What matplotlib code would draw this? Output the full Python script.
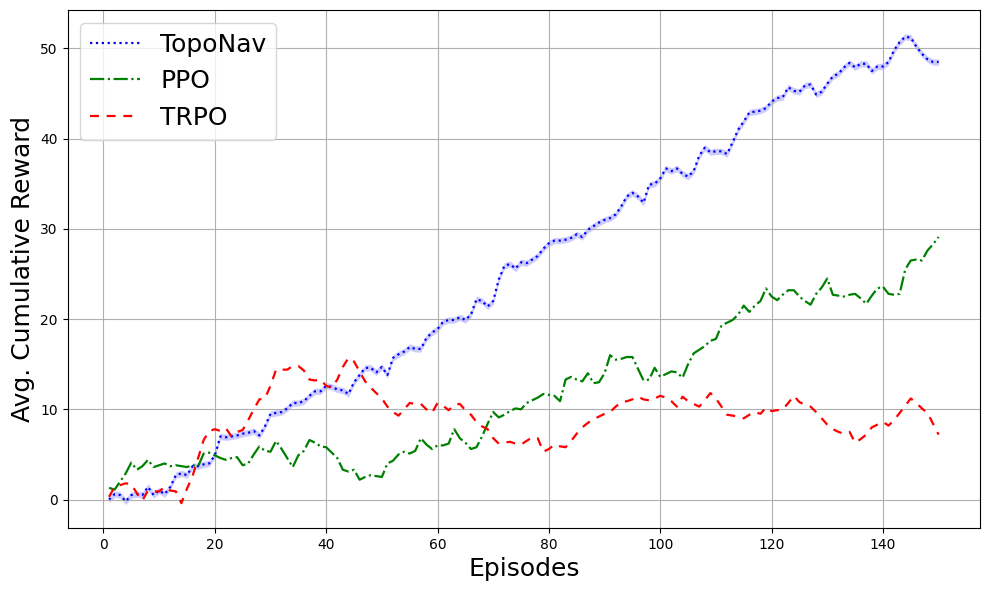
import numpy as np
import matplotlib
matplotlib.use("Agg")
import matplotlib.pyplot as plt

# -----------------------------------------
# Données
# -----------------------------------------
episodes = np.arange(1, 151)

toponav = [
    0.0, 0.6, 0.5, -0.2, 0.5, 0.6, 0.5, 1.4, 0.5, 1.0,
    0.6, 1.4, 2.7, 2.9, 2.7, 3.7, 3.7, 3.9, 4.0, 4.9,
    7.0, 6.9, 7.0, 7.1, 7.3, 7.4, 7.6, 7.1, 8.1, 9.5,
    9.6, 9.7, 10.1, 10.7, 10.7, 10.9, 11.5, 12.0, 12.0, 12.6,
    12.5, 12.2, 12.1, 11.7, 13.0, 13.8, 14.6, 14.6, 14.1, 14.7,
    13.8, 15.7, 16.1, 16.4, 16.9, 16.7, 16.7, 17.9, 18.5, 18.9,
    19.7, 19.9, 19.9, 20.2, 19.9, 20.5, 22.2, 22.0, 21.4, 22.0,
    24.4, 25.9, 26.1, 25.6, 26.3, 26.2, 26.6, 27.0, 27.8, 28.4,
    28.7, 28.7, 28.8, 29.0, 29.4, 29.1, 29.9, 30.3, 30.7, 31.0,
    31.2, 31.6, 32.5, 33.6, 34.0, 33.6, 32.9, 34.9, 35.0, 35.6,
    36.7, 36.4, 36.7, 36.1, 35.8, 36.4, 38.1, 39.0, 38.5, 38.6,
    38.6, 38.3, 39.6, 41.0, 41.9, 42.9, 43.0, 43.1, 43.4, 44.1,
    44.5, 44.6, 45.7, 45.3, 45.2, 45.9, 46.0, 44.9, 45.2, 46.1,
    46.9, 47.2, 47.9, 48.4, 47.9, 48.3, 48.3, 47.5, 48.0, 48.0,
    48.5, 49.8, 50.7, 51.3, 51.2, 50.2, 49.4, 48.8, 48.5, 48.5,
]

ppo = [
    1.3, 1.1, 2.0, 2.9, 4.1, 3.3, 3.7, 4.4, 3.6, 3.8,
    4.0, 3.7, 3.8, 3.7, 3.6, 3.8, 3.7, 5.1, 5.2, 4.9,
    4.6, 4.4, 4.6, 4.7, 3.8, 4.0, 5.0, 5.9, 5.4, 5.3,
    6.5, 5.6, 4.6, 3.6, 4.9, 5.4, 6.6, 6.3, 5.9, 5.8,
    5.2, 4.6, 3.3, 3.1, 3.3, 2.2, 2.5, 2.7, 2.6, 2.5,
    4.0, 4.3, 5.0, 5.3, 5.1, 5.4, 6.8, 6.1, 5.6, 6.0,
    6.0, 6.2, 7.8, 6.8, 6.3, 5.6, 5.8, 7.0, 8.4, 9.7,
    9.1, 9.4, 9.8, 10.1, 10.0, 10.7, 11.0, 11.3, 11.7, 11.6,
    11.5, 10.9, 13.3, 13.6, 13.3, 13.1, 14.0, 12.9, 13.0, 14.0,
    16.0, 15.5, 15.6, 15.8, 15.8, 14.5, 13.2, 13.3, 14.6, 13.6,
    13.9, 14.2, 14.1, 13.5, 15.0, 16.2, 16.6, 17.0, 17.6, 17.8,
    19.3, 19.6, 19.9, 20.5, 21.5, 20.8, 21.5, 22.0, 23.4, 22.5,
    22.1, 22.7, 23.2, 23.2, 22.5, 22.0, 21.6, 22.8, 23.5, 24.5,
    22.7, 22.6, 22.5, 22.7, 22.8, 22.3, 21.7, 22.6, 23.4, 23.6,
    22.8, 22.7, 22.8, 25.5, 26.5, 26.6, 26.5, 27.6, 28.3, 29.1,
]

trpo = [
    0.3, 1.4, 1.6, 1.8, 1.7, 0.7, -0.1, 1.0, 0.9, 0.9,
    1.4, 1.0, 0.9, -0.4, 1.2, 2.6, 4.6, 6.6, 7.6, 7.8,
    7.6, 7.9, 7.0, 7.5, 7.7, 8.8, 10.0, 11.1, 11.2, 12.6,
    14.4, 14.4, 14.4, 14.8, 14.8, 14.3, 13.3, 13.2, 13.3, 12.6,
    12.4, 13.3, 14.7, 15.7, 15.3, 14.2, 13.1, 12.4, 11.8, 11.2,
    10.3, 9.7, 9.3, 10.0, 10.7, 10.6, 10.6, 10.0, 9.6, 10.7,
    10.4, 9.9, 10.5, 10.6, 9.9, 9.4, 8.6, 8.1, 7.8, 6.8,
    6.2, 6.3, 6.4, 6.2, 6.1, 6.5, 6.9, 6.8, 5.3, 5.6,
    6.1, 5.9, 5.8, 6.5, 7.3, 8.0, 8.5, 8.9, 9.2, 9.5,
    9.7, 10.3, 10.8, 10.9, 11.1, 11.4, 11.1, 11.0, 11.2, 11.5,
    11.3, 10.9, 10.3, 11.4, 10.9, 10.6, 10.3, 11.0, 11.8, 11.2,
    10.3, 9.4, 9.3, 9.2, 9.0, 9.4, 9.7, 9.5, 10.2, 9.8,
    9.9, 10.0, 10.7, 11.5, 10.8, 10.5, 10.3, 9.7, 9.0, 8.3,
    7.8, 7.5, 7.3, 7.5, 6.3, 6.7, 7.2, 8.0, 8.3, 8.6,
    8.2, 8.8, 9.6, 10.4, 11.2, 10.7, 10.1, 9.6, 8.4, 7.2,
]

toponav_band = 0.35   # demi-largeur de la bande autour de TopoNav

# -----------------------------------------
# Affichage
# -----------------------------------------
tn = np.array(toponav)
fig = plt.figure(figsize=(9.89, 5.9), dpi=100)
plt.plot(episodes, tn, ":", color="blue", linewidth=1.6, label="TopoNav")
plt.fill_between(episodes, tn - toponav_band, tn + toponav_band, color="blue", alpha=0.2, linewidth=0)
plt.plot(episodes, ppo, "-.", color="green", linewidth=1.6, label="PPO")
plt.plot(episodes, trpo, linestyle=(0, (4, 3.5)), color="red", linewidth=1.6, label="TRPO")
plt.xlabel("Episodes", fontsize=18)
plt.ylabel("Avg. Cumulative Reward", fontsize=18)
plt.legend(loc="upper left", fontsize=18)
plt.grid(True)
fig.subplots_adjust(left=0.0683, right=0.991, top=0.983, bottom=0.105)
plt.savefig("out.png")
